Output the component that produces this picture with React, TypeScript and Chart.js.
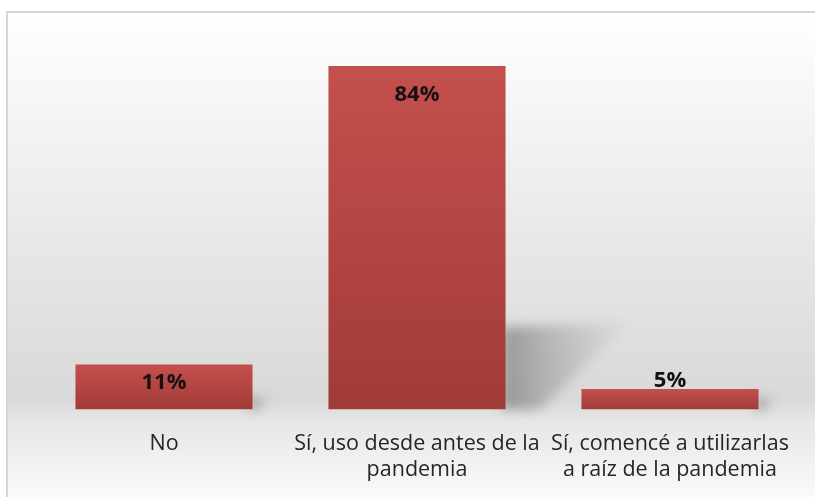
import React, { useEffect, useRef } from "react";
import { Chart, registerables } from "chart.js";

Chart.register(...registerables);

const categories: (string | string[])[] = [
  "No",
  ["Sí, uso desde antes de la", "pandemia"],
  ["Sí, comencé a utilizarlas", "a raíz de la pandemia"],
];
const values: number[] = [11, 84, 5];
const valueLabels: string[] = ["11%", "84%", "5%"];

const FONT = "'Open Sans', 'DejaVu Sans', sans-serif";

const backgroundPlugin = {
  id: "bgPanel",
  beforeDraw(chart: any) {
    const { ctx, width, height } = chart;
    ctx.save();
    ctx.fillStyle = "#ffffff";
    ctx.fillRect(0, 0, width, height);
    const top = 12;
    const left = 7;
    const g = ctx.createLinearGradient(0, top, 0, height);
    const span = height - top;
    const stop = (y: number) => Math.min(1, Math.max(0, (y - top) / span));
    g.addColorStop(0, "#ffffff");
    g.addColorStop(stop(100), "#f6f6f6");
    g.addColorStop(stop(300), "#e2e2e2");
    g.addColorStop(stop(400), "#d9d9d9");
    g.addColorStop(stop(420), "#e6e6e6");
    g.addColorStop(1, "#fafafa");
    ctx.fillStyle = g;
    ctx.fillRect(left, top, width - left, height - top);
    ctx.strokeStyle = "#d6d6d6";
    ctx.lineWidth = 2;
    ctx.strokeRect(left, top, width - left + 4, height - top + 4);
    ctx.restore();
  },
};

const shadowPlugin = {
  id: "barShadow",
  beforeDatasetsDraw(chart: any) {
    const { ctx } = chart;
    const meta = chart.getDatasetMeta(0);
    ctx.save();
    meta.data.forEach((bar: any) => {
      const { x, y, base, width } = bar.getProps(["x", "y", "base", "width"], true);
      const h = base - y;
      const xr = x + width / 2;
      const sh = Math.max(10, 0.24 * h);
      const sw = Math.max(18, 0.36 * h);
      const g = ctx.createLinearGradient(xr, 0, xr + sw, 0);
      g.addColorStop(0, "rgba(125,125,125,0.7)");
      g.addColorStop(1, "rgba(160,160,160,0.05)");
      ctx.filter = "blur(6px)";
      ctx.fillStyle = g;
      ctx.beginPath();
      ctx.moveTo(xr - 4, base - sh);
      ctx.lineTo(xr + sw, base - sh - 4);
      ctx.lineTo(xr + Math.max(8, 0.1 * h), base);
      ctx.lineTo(xr - 4, base);
      ctx.closePath();
      ctx.fill();
    });
    ctx.filter = "none";
    ctx.restore();
  },
};

const labelPlugin = {
  id: "valueLabels",
  afterDatasetsDraw(chart: any) {
    const { ctx } = chart;
    const meta = chart.getDatasetMeta(0);
    ctx.save();
    ctx.font = `bold 22px ${FONT}`;
    ctx.fillStyle = "#161010";
    ctx.textAlign = "center";
    ctx.textBaseline = "middle";
    meta.data.forEach((bar: any, i: number) => {
      const { x, y, base } = bar.getProps(["x", "y", "base"], true);
      const h = base - y;
      let ly: number;
      if (h < 30) ly = y - 8;
      else ly = y + Math.min(28.5, h * 0.4);
      ctx.fillText(valueLabels[i], x, ly);
    });
    ctx.restore();
  },
};

export default function App() {
  const ref = useRef<HTMLCanvasElement | null>(null);

  useEffect(() => {
    if (!ref.current) return;
    const chart = new Chart(ref.current, {
      type: "bar",
      data: {
        labels: categories as any,
        datasets: [
          {
            data: values,
            backgroundColor: (c: any) => {
              const chart = c.chart;
              if (!chart.chartArea || c.raw === undefined) return "#c0504d";
              const ys = chart.scales.y;
              const y0 = ys.getPixelForValue(c.raw);
              const y1 = ys.getPixelForValue(0);
              if (!isFinite(y0) || !isFinite(y1) || y0 === y1) return "#c0504d";
              const g = chart.ctx.createLinearGradient(0, y0, 0, y1);
              g.addColorStop(0, "#c4504d");
              g.addColorStop(1, "#a13b38");
              return g;
            },
            borderWidth: 0,
            barPercentage: 0.7,
            categoryPercentage: 1,
          },
        ],
      },
      options: {
        animation: false,
        responsive: false,
        maintainAspectRatio: false,
        layout: { padding: { top: 66, left: 37.5, right: 18.5, bottom: 0 } },
        plugins: {
          legend: { display: false },
          tooltip: { enabled: false },
        },
        scales: {
          x: {
            grid: { display: false },
            border: { display: false },
            ticks: {
              color: "#262626",
              font: { family: FONT, size: 21.5, lineHeight: 1.2 },
              padding: 14,
              maxRotation: 0,
              autoSkip: false,
            },
          },
          y: {
            display: false,
            min: 0,
            max: 84,
          },
        },
      },
      plugins: [backgroundPlugin, shadowPlugin, labelPlugin],
    });
    return () => chart.destroy();
  }, []);

  return (
    <div style={{ position: "absolute", left: 0, top: 0, width: 815, height: 497 }}>
      <canvas ref={ref} width={815} height={497} style={{ display: "block" }} />
    </div>
  );
}
